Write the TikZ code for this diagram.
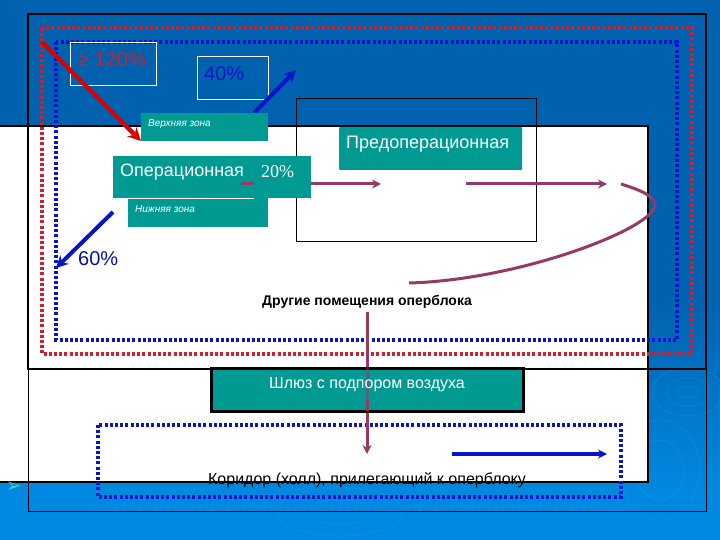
\documentclass[tikz,border=0pt]{standalone}
\usepackage{fontspec}
\setmainfont{Liberation Sans}
\newfontfamily\serifcyr{Liberation Serif}
\newfontfamily\dejavu{DejaVu Sans}
\usetikzlibrary{arrows.meta}
\definecolor{bgtop}{HTML}{0062AE}
\definecolor{bgbot}{HTML}{0089E0}
\definecolor{tealbox}{HTML}{009A93}
\definecolor{plum}{HTML}{953A63}
\definecolor{dotblue}{HTML}{0A14C8}
\definecolor{dotred}{HTML}{CC2033}
\definecolor{ripple}{HTML}{4FA8E6}
\tikzset{
  x=1pt,y=-1pt,
  whitetext/.style={text=white},
  framebox/.style={draw=white,line width=1pt},
  dotsred/.style={draw=dotred,line width=3.2pt,dash pattern=on 3pt off 2.2pt},
  dotsblue/.style={draw=dotblue,line width=3.2pt,dash pattern=on 3pt off 2.2pt},
  plumline/.style={draw=plum,line width=3pt},
  plumarrow/.style={plumline,-{Stealth[length=9pt,width=9pt]}},
  bluearrow/.style={draw=dotblue,line width=4pt,-{Stealth[length=12pt,width=12pt]}},
  redarrow/.style={draw=red!85!black,line width=4.5pt,-{Stealth[length=13pt,width=13pt]}},
  ripples/.style={draw=ripple,line width=1pt,opacity=.16},
}
\begin{document}
\begin{tikzpicture}
\useasboundingbox (0,0) rectangle (720,540);
% background
\fill[bgtop] (0,0) rectangle (720,300);
\shade[top color=bgtop,bottom color=bgbot] (0,300) rectangle (720,490);
\fill[bgbot] (0,490) rectangle (720,540);
\foreach \r in {6,14,24} \draw[ripples] (688,392) ellipse ({\r*1.5} and {\r});
\foreach \r in {30,50} \draw[ripples] (660,470) ellipse ({\r*.8} and {\r});
\foreach \r in {20,40} \draw[ripples] (340,512) ellipse ({\r*1.6} and {\r*.6});
% white sheet
\fill[white] (0,126) rectangle (648,482);
\draw[black,line width=2pt] (0,126) -- (648,126) -- (648,482) -- (0,482);
% frames
\draw[black,line width=1pt] (28,369) -- (28,511) -- (706,511) -- (706,369);
\draw[black,line width=2pt] (28,14) rectangle (706,369);
% predoperative frame
\draw[black,line width=1pt] (296,99) rectangle (536,241);
% dotted zones
\draw[dotsred] (42,28) rectangle (692,354);
\draw[dotsblue] (56,42) rectangle (677,340);
\draw[dotsblue] (98,425) rectangle (621,497);
% percent boxes
\node[framebox,anchor=north west,minimum width=86pt,minimum height=43pt,inner sep=0pt] (pa) at (70,42) {};
\node[font=\fontsize{20}{22}\selectfont,text=dotred,anchor=west,inner sep=0pt] (pat) at (78,60) {≥ 120\%};
\node[framebox,anchor=north west,minimum width=71pt,minimum height=43pt,inner sep=0pt] (pb) at (197,56) {};
\node[font=\fontsize{20}{22}\selectfont,text=dotblue,anchor=west,inner sep=0pt] (pbt) at (204,74) {40\%};
% connector ends
\coordinate (ra) at (42,42);
\coordinate (rb) at (141,141);
\coordinate (ua) at (254,113);
\coordinate (ub) at (296,70);
\coordinate (da) at (113,212);
\coordinate (db) at (56,268);
\coordinate (m1) at (241,184);
\coordinate (m2) at (254,184);
\coordinate (m3) at (311,184);
\coordinate (m4) at (381,184);
\coordinate (m5) at (466,184);
\coordinate (m6) at (607,184);
\coordinate (c1) at (621,184);
\coordinate (c2) at (409,283);
\coordinate (v1) at (367,312);
\coordinate (v2) at (367,454);
\coordinate (h1) at (452,454);
\coordinate (h2) at (607,454);
% arrows
\draw[redarrow] (ra) -- (rb);
\draw[bluearrow] (ua) -- (ub);
\draw[bluearrow] (da) -- (db);
\draw[plumarrow] (m3) -- (m4);
\draw[plumarrow] (m5) -- (m6);
\draw[plumline] (c1) .. controls (640,190) and (655,196) .. (655,205) .. controls (655,228) and (520,280) .. (c2);
\draw[plumarrow] (v1) -- (v2);
\draw[draw=dotblue,line width=3.4pt,-{Stealth[length=9pt,width=9pt]}] (h1) -- (h2);
% teal boxes
\fill[tealbox] (141,113) rectangle (268,141);
\node[whitetext,anchor=west,font=\fontsize{10}{11}\selectfont\itshape,inner sep=0pt] (upper) at (148,124) {Верхняя зона};
\fill[tealbox] (128,198) rectangle (268,227);
\node[whitetext,anchor=west,font=\fontsize{10}{11}\selectfont\itshape,inner sep=0pt] (lower) at (135,209) {Нижняя зона};
\fill[tealbox] (113,156) rectangle (254,198);
\fill[tealbox] (254,156) rectangle (311,198);
\draw[plumline] (m1) -- (m2);
\draw[white,line width=.8pt] (128,198) -- (254,198);
\node[whitetext,anchor=west,font=\fontsize{18}{20}\selectfont,inner sep=0pt] (oper) at (120,172) {Операционная};
\node[whitetext,anchor=west,font=\fontsize{18}{20}\serifcyr,inner sep=0pt] (pct) at (261,172) {20\%};
\fill[tealbox,rounded corners=1pt] (339,127) rectangle (522,170);
\node[whitetext,anchor=west,font=\fontsize{18}{20}\selectfont,inner sep=0pt] (preop) at (346,144) {Предоперационная};
\node[text=dotblue!80!black,anchor=west,font=\fontsize{20}{22}\selectfont,inner sep=0pt] (p60) at (78,259) {60\%};
\node[text=black,font=\fontsize{14}{16}\selectfont\bfseries,inner sep=0pt] (other) at (367,302) {Другие помещения оперблока};
% airlock
\draw[black,line width=3pt,fill=tealbox] (211,368) rectangle (523,411);
\draw[plum,line width=3pt,opacity=.5] (367,368) -- (367,400);
\draw[plumline] (367,400) -- (367,411);
\node[whitetext,font=\fontsize{16}{18}\selectfont,inner sep=0pt] (lock) at (367,385) {Шлюз с подпором воздуха};
\node[text=black,font=\fontsize{16}{18}\selectfont,inner sep=0pt] (corr) at (367,480) {Коридор (холл), прилегающий к оперблоку};
\node[text=cyan!60!green!70!white,font=\fontsize{20}{20}\dejavu,inner sep=0pt] (bul) at (14,487) {➢};
\end{tikzpicture}
\end{document}
